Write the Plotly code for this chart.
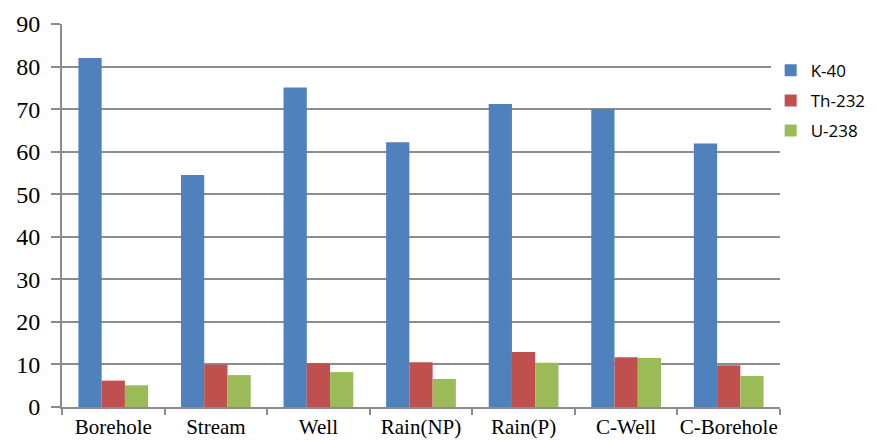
import plotly.graph_objects as go

sites = ["Borehole", "Stream", "Well", "Rain(NP)", "Rain(P)", "C-Well", "C-Borehole"]
k40 = [82.0, 54.5, 75.1, 62.2, 71.2, 70.0, 61.9]
th232 = [6.2, 9.9, 10.3, 10.5, 12.9, 11.7, 9.8]
u238 = [5.1, 7.5, 8.2, 6.6, 10.4, 11.5, 7.3]

series = [
    ("K-40", k40, "#4F81BD"),
    ("Th-232", th232, "#C0504D"),
    ("U-238", u238, "#9BBB59"),
]

fig = go.Figure()
for name, vals, color in series:
    fig.add_trace(go.Bar(x=sites, y=vals, name=name, legendgroup=name,
                         marker=dict(color=color, line=dict(width=0))))

# page body has an 8px margin, so the figure is sized/offset to compensate
fig.update_layout(
    width=868,
    height=433,
    barmode="group",
    bargap=0.32,
    bargroupgap=0,
    plot_bgcolor="white",
    paper_bgcolor="white",
    margin=dict(l=54, r=96, t=16, b=34, autoexpand=False),
    font=dict(family="Liberation Serif", color="black"),
    legend=dict(
        x=0.987, y=0.925, xanchor="left", yanchor="top",
        font=dict(family="Open Sans", size=17, color="black"),
        tracegroupgap=5, itemwidth=30,
    ),
    xaxis=dict(
        showline=True, linecolor="#8c8c8c", linewidth=2,
        ticks="outside", tickson="boundaries", ticklen=6, tickcolor="#8c8c8c", tickwidth=2,
        tickfont=dict(size=21), tickangle=0, automargin=False,
    ),
    yaxis=dict(
        range=[0, 90], dtick=10,
        showline=True, linecolor="#8c8c8c", linewidth=2,
        ticks="outside", ticklen=9, tickcolor="#8c8c8c", tickwidth=2,
        showgrid=True, gridcolor="#8c8c8c", gridwidth=2,
        tickfont=dict(size=24), zeroline=False, automargin=False,
        ticklabelstandoff=6,
    ),
)

fig.write_html("out.html")
